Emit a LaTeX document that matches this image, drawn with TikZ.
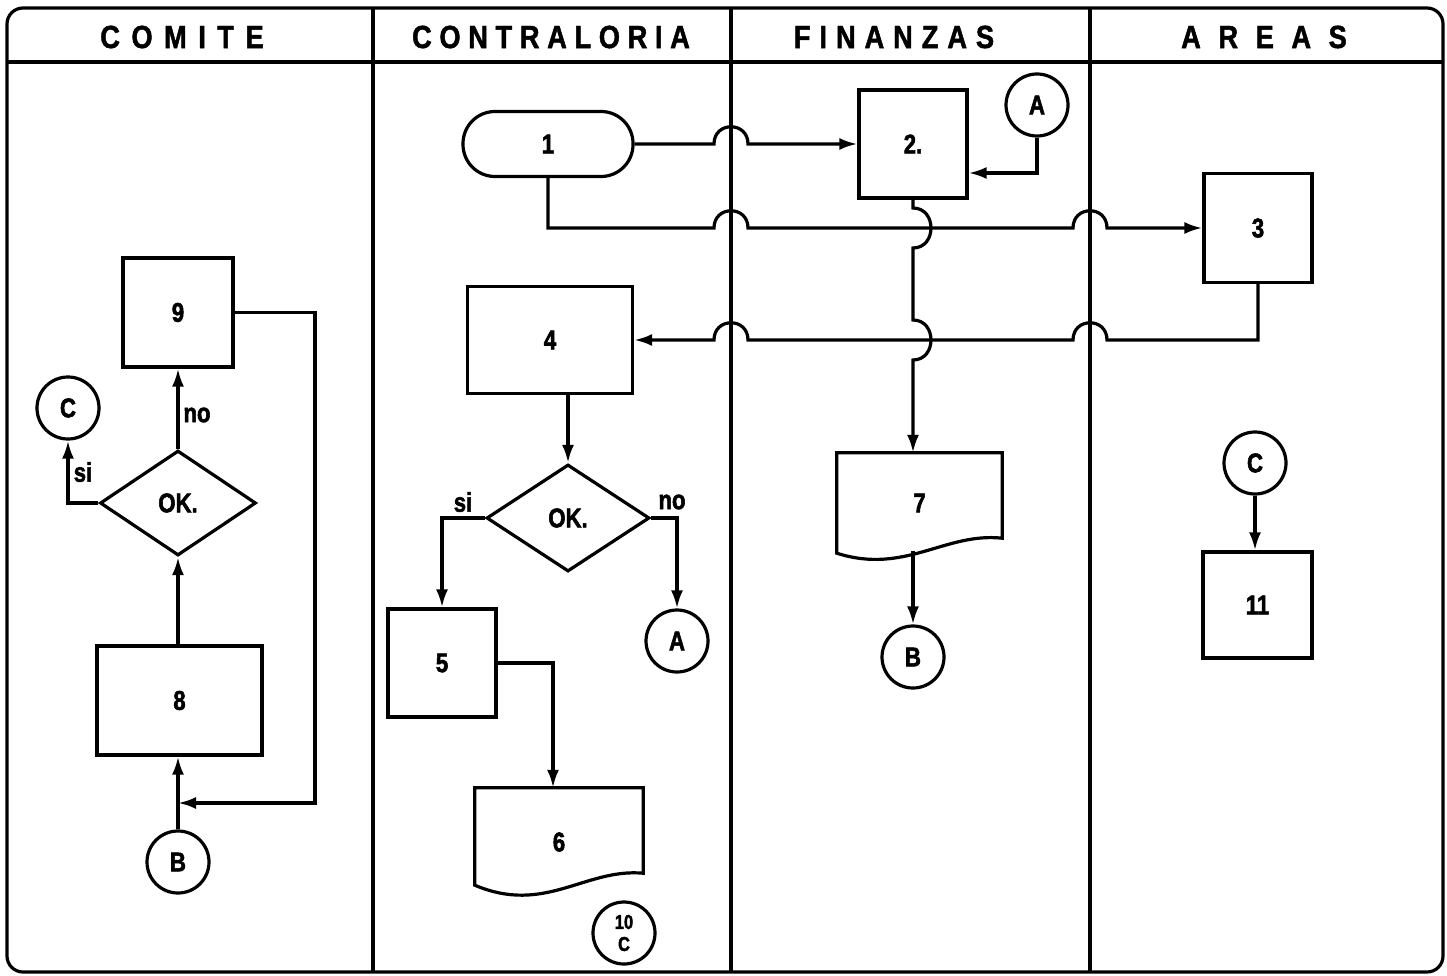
\documentclass[tikz,border=0pt]{standalone}
\usepackage{fontspec}
\usetikzlibrary{arrows.meta,shapes.geometric}

\newfontfamily\labfamily[FakeStretch=0.82,FakeBold=2]{Liberation Sans}
\newfontfamily\headfamily[FakeStretch=0.85,FakeBold=1.5]{Liberation Sans}
\newcommand\flowlab{\labfamily\bfseries\fontsize{27}{27}\selectfont}
\newcommand\lanehead[1]{\headfamily\bfseries\fontsize{32}{32}\selectfont\addfontfeature{LetterSpace=#1}}

\tikzset{
  ln/.style={line width=3.2pt},
  flow/.style={ln, -{Latex[length=18pt,width=12pt]}},
  proc/.style={draw, ln, rectangle, inner sep=0pt, font=\flowlab},
  term/.style={proc, rounded corners=32pt},
  conn/.style={draw, ln, circle, minimum size=62pt, inner sep=0pt, font=\flowlab},
  dec/.style={draw, ln, diamond, inner sep=0pt, font=\flowlab},
  docbox/.style={rectangle, inner sep=0pt, font=\flowlab},
  txt/.style={inner sep=0pt, font=\flowlab},
  % hop of a horizontal line over a vertical one (rightwards / leftwards)
  hopr/.style 2 args={insert path={-- (#1-17,#2) .. controls (#1-17,#2-23) and (#1+17,#2-23) .. (#1+17,#2)}},
  hopl/.style 2 args={insert path={-- (#1+17,#2) .. controls (#1+17,#2-23) and (#1-17,#2-23) .. (#1-17,#2)}},
  % bulge of a vertical line around a horizontal one
  hopd/.style 2 args={insert path={-- (#1,#2-20) .. controls (#1+24,#2-20) and (#1+24,#2+20) .. (#1,#2+20)}},
}

\begin{document}
\begin{tikzpicture}[x=1pt, y=-1pt]
\useasboundingbox (0,0) rectangle (1447,976);

% frame, header row and swim lanes
\draw[ln, rounded corners=16pt] (7,8) rectangle (1443,972);
\draw[ln] (7,62) -- (1443,62);
\draw[ln] (373,8) -- (373,972);
\draw[ln] (731,8) -- (731,972);
\draw[ln] (1090,8) -- (1090,972);

\node[inner sep=0pt] (hComite) at (182,37) {\lanehead{36}COMITE};
\node[inner sep=0pt] (hContra) at (551,37) {\lanehead{24}CONTRALORIA};
\node[inner sep=0pt] (hFin) at (894,37) {\lanehead{28}FINANZAS};
\node[inner sep=0pt] (hAreas) at (1264,37) {\lanehead{55}AREAS};

% CONTRALORIA
\node[term, minimum width=170pt, minimum height=65pt] (n1) at (548,144) {1};
\node[proc, minimum width=165pt, minimum height=107pt] (n4) at (550,340) {4};
\node[dec, minimum width=163pt, minimum height=107pt] (d1) at (568,518) {OK.};
\node[proc, minimum width=108pt, minimum height=108pt] (n5) at (442,663) {5};
\node[conn] (A2) at (677,641) {A};
\node[docbox, minimum width=168pt, minimum height=108pt] (n6) at (559,842) {6};
\node[conn, align=center, font=\labfamily\bfseries\fontsize{20}{22}\selectfont] (n10) at (624,933) {10\\C};
\node[txt] (si1) at (463,502) {si};
\node[txt] (no1) at (672,502) {no};

% FINANZAS
\node[proc, minimum width=108pt, minimum height=108pt] (n2) at (913,144) {2.};
\node[conn] (A1) at (1037,105) {A};
\node[docbox, minimum width=165pt, minimum height=100pt] (n7) at (919.5,503) {7};
\node[conn] (B1) at (913,657) {B};
\coordinate (w7) at (913,551);

% AREAS
\node[proc, minimum width=108pt, minimum height=109pt] (n3) at (1258,228) {3};
\node[conn] (C2) at (1255,463) {C};
\node[proc, minimum width=109pt, minimum height=106pt] (n11) at (1257.5,605) {11};

% COMITE
\node[proc, minimum width=110pt, minimum height=109pt] (n9) at (178,312.5) {9};
\node[dec, minimum width=156pt, minimum height=105pt] (d2) at (178,503) {OK.};
\node[proc, minimum width=165pt, minimum height=109pt] (n8) at (179.5,700.5) {8};
\node[conn] (C1) at (68,408) {C};
\node[conn] (B2) at (178,862) {B};
\coordinate (j8) at (178,803);
\node[txt] (si2) at (83,472) {si};
\node[txt] (no2) at (197,415) {no};

% document outlines (wavy lower edge)
\draw[ln] ([yshift=15pt]n7.south east) .. controls (945,532) and (905,575) .. (n7.south west)
  -- (n7.north west) -- (n7.north east) -- cycle;
\draw[ln] ([yshift=23pt]n6.south east) .. controls (585,868) and (545,915) .. ([yshift=11pt]n6.south west)
  -- (n6.north west) -- (n6.north east) -- cycle;

% connectors
\draw[flow] (n1.east) [hopr={731}{144}] -- (n2.west);
\draw[flow] (n1.south) -- (n1.south |- 0,228) [hopr={731}{228}] [hopr={1090}{228}] -- (n3.west);
\draw[flow] (A1.south) |- ([yshift=-29pt]n2.east);
\draw[flow] (n3.south) -- (n3.south |- 0,340) [hopl={1090}{340}] [hopl={731}{340}] -- (n4.east);
\draw[flow] (n2.south) [hopd={913}{228}] [hopd={913}{340}] -- (n2.south |- n7.north);
\draw[flow] (w7) -- (B1.north);

\draw[flow] (d1.north |- n4.south) -- (d1.north);
\draw[flow] (d1.west) -| (n5.north);
\draw[flow] (d1.east) -| (A2.north);
\draw[flow] (n5.east) -| ([xshift=-6pt]n6.north);

\draw[flow] (d2.south |- n8.north) -- (d2.south);
\draw[flow] (d2.north) -- (n9.south);
\draw[flow] (d2.west) -| (C1.south);
\draw[flow] (n9.east) -| (315,803) -- (j8);
\draw[flow] (B2.north) -- (B2.north |- n8.south);

\draw[flow] (C2.south) -- (C2.south |- n11.north);
\end{tikzpicture}
\end{document}
